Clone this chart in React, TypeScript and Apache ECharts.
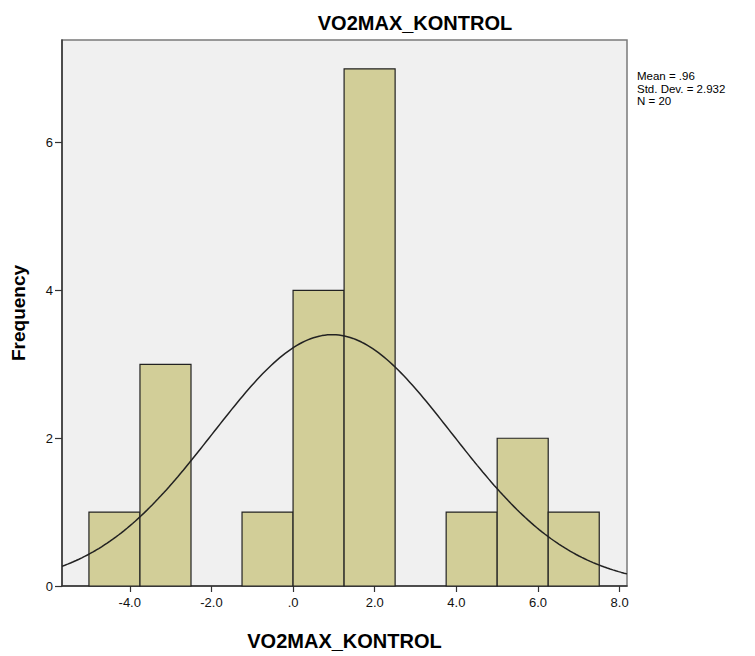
import React, { useEffect, useRef } from "react";
import * as echarts from "echarts";

const BIN_START = [-5.0, -3.75, -2.5, -1.25, 0.0, 1.25, 2.5, 3.75, 5.0, 6.25];
const BIN_END = [-3.75, -2.5, -1.25, 0.0, 1.25, 2.5, 3.75, 5.0, 6.25, 7.5];
const COUNTS = [1, 3, 0, 1, 4, 7, 0, 1, 2, 1];
const X_TICKS = [-4, -2, 0, 2, 4, 6, 8];
const Y_TICKS = [0, 2, 4, 6];
const MEAN = 0.96;
const SD = 2.932;
const N = 20;
const BIN_WIDTH = 1.25;
const X_MIN = -5.66;
const X_MAX = 8.18;
const Y_MAX = 7.39;
const TITLE = "VO2MAX_KONTROL";
const STATS = ["Mean = .96", "Std. Dev. = 2.932", "N = 20"];

const FONT = "Liberation Sans, Arial, sans-serif";

export default function App() {
  const ref = useRef<HTMLDivElement>(null);
  useEffect(() => {
    if (!ref.current) return;
    const chart = echarts.init(ref.current, null, { renderer: "svg" });
    const bins = BIN_START.map((s, i) => [s, BIN_END[i], COUNTS[i]]).filter((b) => b[2] > 0);
    const curve: number[][] = [];
    const steps = 200;
    for (let i = 0; i <= steps; i++) {
      const x = X_MIN + ((X_MAX - X_MIN) * i) / steps;
      const y = (N * BIN_WIDTH) / (SD * Math.sqrt(2 * Math.PI)) * Math.exp(-0.5 * ((x - MEAN) / SD) ** 2);
      curve.push([x, y]);
    }
    const fmt = (v: number) => (v === 0 ? ".0" : v.toFixed(1));
    chart.setOption({
      animation: false,
      backgroundColor: "#ffffff",
      grid: { left: 62, right: 128, top: 40, bottom: 63, show: true, backgroundColor: "#F0F0F0", borderColor: "#7A7A7A", borderWidth: 1.5 },
      xAxis: {
        type: "value",
        min: X_MIN,
        max: X_MAX,
        name: TITLE,
        nameLocation: "middle",
        nameGap: 45,
        nameTextStyle: { fontFamily: FONT, fontSize: 20, fontWeight: "bold", color: "#000" },
        axisLine: { show: true, onZero: false, lineStyle: { color: "#333", width: 1.5 } },
        axisTick: { show: true, inside: false, customValues: X_TICKS, length: 6, lineStyle: { color: "#333", width: 1.2 } },
        axisLabel: { customValues: X_TICKS, formatter: fmt, fontFamily: FONT, fontSize: 13, color: "#111", margin: 10 },
        splitLine: { show: false },
      },
      yAxis: {
        type: "value",
        min: 0,
        max: Y_MAX,
        name: "Frequency",
        nameLocation: "middle",
        nameGap: 34,
        nameTextStyle: { fontFamily: FONT, fontSize: 19, fontWeight: "bold", color: "#000" },
        axisLine: { show: true, onZero: false, lineStyle: { color: "#333", width: 1.5 } },
        axisTick: { show: true, inside: false, customValues: Y_TICKS, length: 7, lineStyle: { color: "#333", width: 1.2 } },
        axisLabel: { customValues: Y_TICKS, fontFamily: FONT, fontSize: 13, color: "#111", margin: 9 },
        splitLine: { show: false },
      },
      graphic: [
        { type: "text", x: 415, y: 13, style: { text: TITLE, textAlign: "center", fontFamily: FONT, fontSize: 20, fontWeight: "bold", fill: "#000" } },
        { type: "text", x: 637, y: 70, style: { text: STATS[0], fontFamily: FONT, fontSize: 11.5, fill: "#000" } },
        { type: "text", x: 637, y: 82.5, style: { text: STATS[1], fontFamily: FONT, fontSize: 11.5, fill: "#000" } },
        { type: "text", x: 637, y: 95, style: { text: STATS[2], fontFamily: FONT, fontSize: 11.5, fill: "#000" } },
      ],
      series: [
        {
          type: "custom",
          data: bins,
          encode: { x: [0, 1], y: 2 },
          renderItem: (params: any, api: any) => {
            const p0 = api.coord([api.value(0), api.value(2)]);
            const p1 = api.coord([api.value(1), 0]);
            return {
              type: "rect",
              shape: { x: p0[0], y: p0[1], width: p1[0] - p0[0], height: p1[1] - p0[1] },
              style: { fill: "#D2CE98", stroke: "#222", lineWidth: 1.2 },
            };
          },
          z: 2,
        },
        {
          type: "line",
          data: curve,
          showSymbol: false,
          smooth: false,
          lineStyle: { color: "#222", width: 1.5 },
          z: 3,
        },
      ],
    });
    return () => chart.dispose();
  }, []);
  return <div ref={ref} style={{ position: "fixed", left: 0, top: 0, width: 755, height: 656 }} />;
}
